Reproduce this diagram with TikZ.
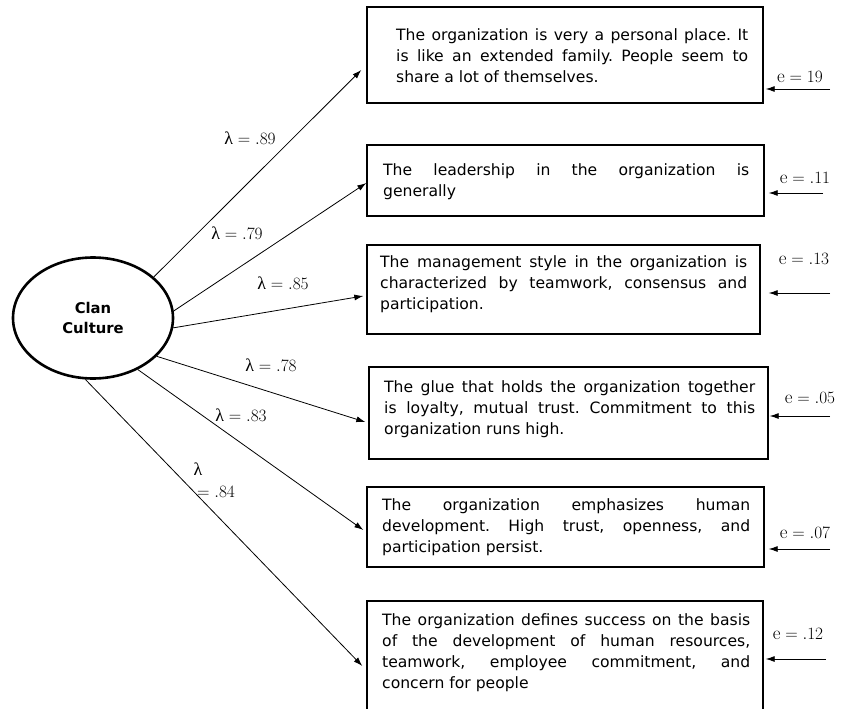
\documentclass[tikz,border=0pt]{standalone}
\usepackage{fontspec}
\setmainfont{DejaVu Sans}
\newfontfamily\lmr{Latin Modern Roman}
\newfontfamily\lsr{Liberation Serif}
\usetikzlibrary{arrows.meta,shapes.geometric}
\tikzset{
  itembox/.style={draw=black, line width=1.4pt, rectangle, inner sep=0pt},
  itemtext/.style={anchor=base west, inner sep=0pt},
  latent/.style={draw=black, line width=2.6pt, ellipse, inner sep=0pt, minimum width=160pt, minimum height=121pt, align=center, font=\fontsize{14.8}{20.5}\selectfont\bfseries},
  load/.style={draw=black, line width=0.8pt, -{Latex[length=9pt,width=6pt]}},
  lab/.style={inner sep=0pt, font=\fontsize{19}{22}\selectfont},
}
\newcommand{\boxtext}[2]{\parbox[t]{#1pt}{\frenchspacing\fontsize{15.6}{21}\selectfont #2}}
\newcommand{\errlab}[1]{{\lmr e}${}= #1$}
\newcommand{\lam}{{\lsr\fontsize{18}{20}\selectfont λ}}
\newcommand{\lamlab}[1]{\lam${}= #1$}
\begin{document}
\begin{tikzpicture}[x=1pt,y=-1pt]
\useasboundingbox (0,0) rectangle (841,709);
\clip (0,0) rectangle (841,709);
\fill[white] (0,0) rectangle (841,709);

% latent variable
\node[latent] (cc) at (93,318) {Clan\\Culture};

% item boxes
\node[itembox, minimum width=396pt, minimum height=96pt] (b1) at (565,55) {};
\node[itembox, minimum width=397pt, minimum height=71pt] (b2) at (565.5,180.5) {};
\node[itembox, minimum width=393pt, minimum height=89pt] (b3) at (563.5,289.5) {};
\node[itembox, minimum width=399pt, minimum height=92pt] (b4) at (568.5,413) {};
\node[itembox, minimum width=397pt, minimum height=80pt] (b5) at (565.5,527) {};
\node[itembox, minimum width=396pt, minimum height=120pt] (b6) at (565,661) {};

% texts
\node[itemtext] (t1) at (396,41) {\boxtext{352}{The organization is very a personal place. It\linebreak is like an extended family. People seem to\linebreak share a lot of themselves.}};
\node[itemtext] (t2) at (383,175) {\boxtext{366}{The leadership in the organization is\linebreak generally}};
\node[itemtext] (t3) at (380,267) {\boxtext{367}{The management style in the organization is\linebreak characterized by teamwork, consensus and\linebreak participation.}};
\node[itemtext] (t4) at (384,392) {\boxtext{371}{The glue that holds the organization together\linebreak is loyalty, mutual trust. Commitment to this\linebreak organization runs high.}};
\node[itemtext] (t5) at (382,510) {\boxtext{368}{The organization emphasizes human\linebreak development. High trust, openness, and\linebreak participation persist.}};
\node[itemtext] (t6) at (382,625) {\boxtext{368}{The organization defines success on the basis\linebreak of the development of human resources,\linebreak teamwork, employee commitment, and\linebreak concern for people}};

% loadings
\draw[load] (cc.34.7) -- ([xshift=-5pt,yshift=-15pt]b1.west);
\draw[load] (cc.5.7) -- ([xshift=0pt,yshift=-2.5pt]b2.west);
\draw[load] (cc.-7) -- ([xshift=-3pt,yshift=-6.5pt]b3.west);
\draw[load] (cc.-31.4) -- ([xshift=-3pt,yshift=-9pt]b4.west);
\draw[load] (cc.-49.8) -- ([xshift=-3pt,yshift=-3pt]b5.west);
\draw[load] (cc.-97.5) -- ([xshift=-4pt,yshift=-5pt]b6.west);

% loading labels
\node[lab] (l1) at (250,138) {\lamlab{.89}};
\node[lab] (l2) at (237,233) {\lamlab{.79}};
\node[lab] (l3) at (283,283) {\lamlab{.85}};
\node[lab] (l4) at (271,365) {\lamlab{.78}};
\node[lab] (l5) at (241,415) {\lamlab{.83}};
\node[lab] (l6a) at (198,469) {\lam};
\node[lab] (l6b) at (216,492) {$= .84$};

% error terms
\coordinate (e1) at (830,89);
\coordinate (e2) at (823,193);
\coordinate (e3) at (830,293);
\coordinate (e4) at (830,416);
\coordinate (e5) at (830,549);
\coordinate (e6) at (826,659);
\draw[load] (e1) -- ([xshift=2pt,yshift=-34pt]b1.east);
\draw[load] (e2) -- ([xshift=4pt,yshift=-12.5pt]b2.east);
\draw[load] (e3) -- ([xshift=8pt,yshift=-3.5pt]b3.east);
\draw[load] (e4) -- ([xshift=1pt,yshift=-3pt]b4.east);
\draw[load] (e5) -- ([xshift=4pt,yshift=-22pt]b5.east);
\draw[load] (e6) -- ([xshift=2pt,yshift=2pt]b6.east);

\node[lab] (r1) at (800,77) {\errlab{19}};
\node[lab] (r2) at (805,178) {\errlab{.11}};
\node[lab] (r3) at (804,259) {\errlab{.13}};
\node[lab] (r4) at (810,398) {\errlab{.05}};
\node[lab] (r5) at (805,533) {\errlab{.07}};
\node[lab] (r6) at (798,634) {\errlab{.12}};
\end{tikzpicture}
\end{document}
